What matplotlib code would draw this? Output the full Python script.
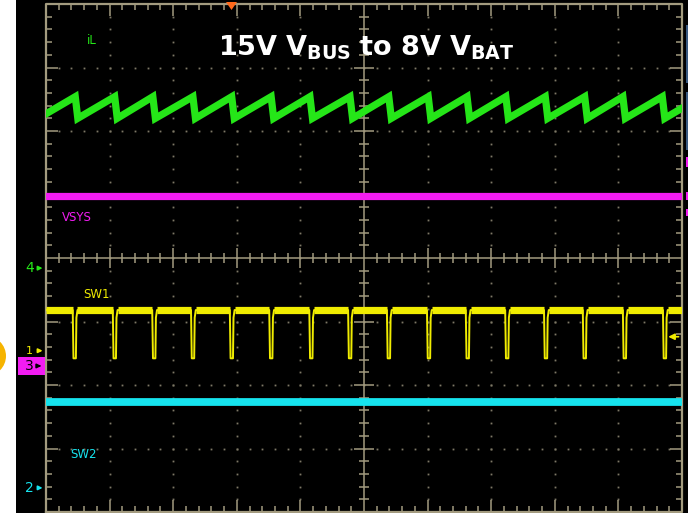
import numpy as np
import matplotlib.pyplot as plt
from matplotlib.patches import Rectangle, Circle, Polygon

# 示波器波形：iL / VSYS / SW1 / SW2，纵横坐标单位均为“格”

# iL (CH4) 锯齿波：每个周期的峰值时刻及峰/谷电平
il_peak_t = [0.46, 1.08, 1.68, 2.31, 2.92, 3.54, 4.15, 4.78,
             5.39, 6.01, 6.62, 7.23, 7.85, 8.47, 9.07, 9.69]
il_peak = 6.54
il_valley = 6.20
il_start = 6.27
il_end = 6.36

# VSYS (CH3) 直流电平
vsys_level = 4.98

# SW1 (CH1) 开关节点：每个低脉冲的下降沿时刻
sw1_fall_t = [0.42, 1.05, 1.67, 2.28, 2.89, 3.51, 4.14, 4.75,
              5.36, 5.99, 6.60, 7.22, 7.83, 8.44, 9.07, 9.70]
sw1_high = 3.18
sw1_low = 2.42
sw1_trig = 2.76

# SW2 (CH2) 直流电平
sw2_level = 1.73

GREEN = '#25e618'
MAGENTA = '#f21cf2'
YELLOW = '#f0ec00'
CYAN = '#16e3ee'
GRID = '#a39b7f'
DOT = '#7e7866'

fig = plt.figure(figsize=(6.88, 5.13), dpi=100, facecolor='white')
fig.add_artist(Rectangle((16 / 688, 0), 1, 1, transform=fig.transFigure,
                         facecolor='black', edgecolor='none', zorder=0))

ax = fig.add_axes([46 / 688, 1 / 513, 636 / 688, 508 / 513])
ax.set_facecolor('black')
ax.set_xlim(0, 10)
ax.set_ylim(0, 8)
ax.axis('off')

# ---- 网格 ----
fine_x = [i * 0.2 for i in range(1, 50)]
fine_y = [i * 0.2 for i in range(1, 40)]
major_x = [i for i in range(1, 10) if i != 5]
major_y = [i for i in range(1, 8) if i != 4]
for gx in major_x:
    ax.plot([gx] * len(fine_y), fine_y, ls='none', marker='s', ms=1.3,
            mec='none', mfc=DOT, zorder=1)
for gy in major_y:
    ax.plot(fine_x, [gy] * len(fine_x), ls='none', marker='s', ms=1.3,
            mec='none', mfc=DOT, zorder=1)

ax.plot([0, 10, 10, 0, 0], [0, 0, 8, 8, 0], color=GRID, lw=1.6, zorder=2,
        clip_on=False)
ax.plot([5, 5], [0, 8], color=GRID, lw=1.1, zorder=2)
ax.plot([0, 10], [4, 4], color=GRID, lw=1.1, zorder=2)

sx, sy = 0.095, 0.095
bx, by = 0.19, 0.19
tx_minor = [v for v in fine_x if abs(v - round(v)) > 1e-6]
ty_minor = [v for v in fine_y if abs(v - round(v)) > 1e-6]
tk = dict(color=GRID, lw=1.1, zorder=2)
ax.vlines(tx_minor, 8 - sy, 8, **tk)
ax.vlines(tx_minor, 0, sy, **tk)
ax.vlines(major_x, 8 - by, 8, **tk)
ax.vlines(major_x, 0, by, **tk)
ax.hlines(ty_minor, 0, sx, **tk)
ax.hlines(ty_minor, 10 - sx, 10, **tk)
ax.hlines(major_y, 0, bx, **tk)
ax.hlines(major_y, 10 - bx, 10, **tk)
# 中心十字刻度
ax.vlines(tx_minor, 4 - 0.08, 4 + 0.08, **tk)
ax.vlines(major_x, 4 - 0.15, 4 + 0.15, **tk)
ax.hlines(ty_minor, 5 - 0.08, 5 + 0.08, **tk)
ax.hlines(major_y, 5 - 0.15, 5 + 0.15, **tk)

# ---- iL ----
il_t, il_y = [0], [il_start]
for p in il_peak_t:
    il_t += [p, p + 0.04]
    il_y += [il_peak, il_valley]
il_t.append(10)
il_y.append(il_end)
ax.plot(il_t, il_y, color=GREEN, lw=5.2, solid_joinstyle='miter', zorder=5)

# ---- VSYS ----
ax.plot([0, 10], [vsys_level, vsys_level], color=MAGENTA, lw=5.2, zorder=5)

# ---- SW1 ----
sw_t, sw_y = [0], [sw1_high]
flat_start, flat_end = [0], []
for f in sw1_fall_t:
    sw_t += [f, f + 0.012, f + 0.05, f + 0.058, f + 0.075]
    sw_y += [sw1_high, sw1_low, sw1_low, sw1_high - 0.12, sw1_high]
    flat_end.append(f)
    flat_start.append(f + 0.075)
sw_t.append(10)
sw_y.append(sw1_high)
flat_end.append(10)
ax.plot(sw_t, sw_y, color=YELLOW, lw=1.4, zorder=5)
ax.hlines([sw1_high] * len(flat_start), flat_start, flat_end,
          color=YELLOW, lw=5.2, zorder=5)
ax.annotate('', xy=(9.74, sw1_trig), xytext=(9.99, sw1_trig),
            arrowprops=dict(arrowstyle='-|>', color=YELLOW, lw=1.2,
                            mutation_scale=9), zorder=6)

# ---- SW2 ----
ax.plot([0, 10], [sw2_level, sw2_level], color=CYAN, lw=5.6, zorder=5)

# ---- 通道标签 ----
lab = dict(fontsize=8.5, family='DejaVu Sans', va='center', ha='left')
ax.text(0.64, 7.42, 'iL', color=GREEN, **lab)
ax.text(0.25, 4.63, 'VSYS', color=MAGENTA, **lab)
ax.text(0.58, 3.43, 'SW1', color=YELLOW, **lab)
ax.text(0.38, 0.91, 'SW2', color=CYAN, **lab)

plt.rcParams['mathtext.fontset'] = 'dejavusans'
ax.text(5.04, 7.19, r'$\mathbf{15V\ V_{BUS}\ to\ 8V\ V_{BAT}}$',
        color='white', fontsize=19.5, ha='center', va='baseline', zorder=7)

# ---- 左侧通道零点标记 ----
def ch_marker(y, text, color, size=10):
    ax.text(-0.26, y, text, color=color, fontsize=size, ha='center',
            va='center', clip_on=False)
    ax.annotate('', xy=(-0.01, y), xytext=(-0.17, y), annotation_clip=False,
                arrowprops=dict(arrowstyle='-|>', color=color, lw=1.2,
                                mutation_scale=6))

ch_marker(3.84, '4', GREEN)
ch_marker(2.54, '1', YELLOW, size=8)
ch_marker(0.38, '2', CYAN)
ax.add_patch(Rectangle((-0.44, 2.16), 0.425, 0.285, facecolor=MAGENTA,
                       edgecolor='none', clip_on=False, zorder=8))
ax.text(-0.26, 2.30, '3', color='black', fontsize=10, ha='center',
        va='center', clip_on=False, zorder=9)
ax.annotate('', xy=(-0.03, 2.30), xytext=(-0.17, 2.30), annotation_clip=False,
            arrowprops=dict(arrowstyle='-|>', color='black', lw=1.2,
                            mutation_scale=6), zorder=9)

# ---- 边框上的其他指示 ----
def px(x, y):
    return (x / 100, (513 - y) / 100)

fig.add_artist(Circle(px(-14, 356), 0.2, transform=fig.dpi_scale_trans,
                      facecolor='#f6b400', edgecolor='none', zorder=3))
fig.add_artist(Polygon([px(226, 2), px(237, 2), px(231.5, 10)], closed=True,
                       transform=fig.dpi_scale_trans, facecolor='#ff6a1c',
                       edgecolor='none', zorder=3))
for y0, y1, c in [(25, 83, '#3a5a80'), (92, 150, '#3a5a80'),
                  (157, 167, MAGENTA), (192, 200, MAGENTA), (209, 216, MAGENTA)]:
    x0, yb = px(686, y1)
    fig.add_artist(Rectangle((x0, yb), 0.03, (y1 - y0) / 100,
                             transform=fig.dpi_scale_trans, facecolor=c,
                             edgecolor='none', zorder=3))

fig.savefig('out.png', dpi=100, facecolor='white')
